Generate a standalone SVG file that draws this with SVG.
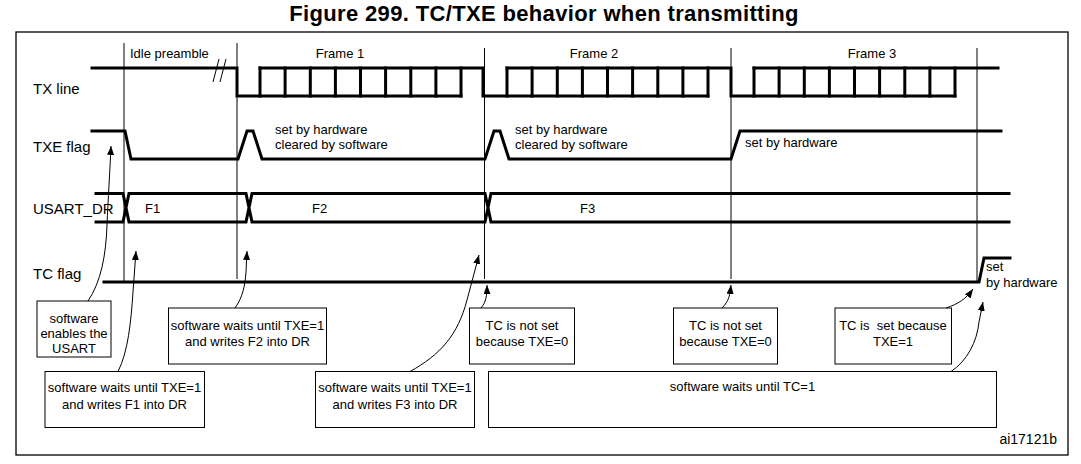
<svg xmlns="http://www.w3.org/2000/svg" width="1081" height="464" viewBox="0 0 1081 464">
<style>
text{font-family:"Liberation Sans",Arial,sans-serif;fill:#000}
.t13{font-size:13px}
.t15{font-size:15px}
.c{text-anchor:middle}
.sig{fill:none;stroke:#000;stroke-width:3;stroke-linecap:square;stroke-linejoin:miter}
.thin{fill:none;stroke:#000;stroke-width:1}
.box{fill:#fff;stroke:#000;stroke-width:1}
.arr{fill:none;stroke:#000;stroke-width:1;marker-end:url(#ah)}
</style>
<defs>
<marker id="ah" viewBox="0 0 10 10" refX="10" refY="5" markerWidth="9" markerHeight="7" orient="auto" markerUnits="userSpaceOnUse" preserveAspectRatio="none"><path d="M0,0 L10,5 L0,10 z" fill="#000"/></marker>
</defs>
<rect width="1081" height="464" fill="#fff"/>
<g id="title"><text x="544" y="21" class="c" style="font-size:22px;font-weight:bold;letter-spacing:0.35px">Figure 299. TC/TXE behavior when transmitting</text></g>
<rect id="frame" x="16" y="32" width="1052" height="423" fill="none" stroke="#000" stroke-width="1.3"/>

<g id="time-markers">
<path class="thin" d="M124,43 V282 M237,43 V279 M484.5,48 V279 M731,48 V279 M977,48 V282"/>
<path class="thin" stroke-width="1.3" d="M219,59 L213,82 M226,59 L220,82"/>
<text x="130" y="58" class="t13">Idle preamble</text>
<text x="340" y="58" class="t13 c">Frame 1</text>
<text x="594" y="58" class="t13 c">Frame 2</text>
<text x="872" y="58" class="t13 c">Frame 3</text>
</g>

<g id="tx-line">
<text x="33" y="94" class="t15">TX line</text>
<path class="sig" d="M92,68 H237 V96 H461 M260,68 H483 V96 H708 M507,68 H731 V96 H955 M754,68 H998"/>
<path class="sig" d="M260,68V96M285.1,68V96M310.3,68V96M335.4,68V96M360.5,68V96M385.6,68V96M410.8,68V96M435.9,68V96M461,68V96
M507,68V96M532.1,68V96M557.3,68V96M582.4,68V96M607.5,68V96M632.6,68V96M657.8,68V96M682.9,68V96M708,68V96
M754,68V96M779.1,68V96M804.3,68V96M829.4,68V96M854.5,68V96M879.6,68V96M904.8,68V96M929.9,68V96M955,68V96"/>
</g>

<g id="txe-flag">
<text x="33" y="152" class="t15">TXE flag</text>
<path class="sig" stroke-linecap="butt" d="M92,131 H125 L131,159 H238 L247,131 H253 L262,159 H485 L494,131 H500 L509,159 H731 L740,131 H1001"/>
<text x="275" y="134" class="t13">set by hardware</text>
<text x="275" y="149" class="t13">cleared by software</text>
<text x="515" y="134" class="t13">set by hardware</text>
<text x="515" y="149" class="t13">cleared by software</text>
<text x="745" y="147" class="t13">set by hardware</text>
</g>

<g id="usart-dr">
<text x="33" y="213.5" class="t15">USART_DR</text>
<path class="sig" stroke-linecap="butt" d="M96,193.5 H123 L129,222 H246 L252,193.5 H485 L491,222 H1009 M96,222 H123 L129,193.5 H246 L252,222 H485 L491,193.5 H1009"/>
<text x="145" y="213" class="t13">F1</text>
<text x="312" y="213" class="t13">F2</text>
<text x="580" y="213" class="t13">F3</text>
</g>

<g id="tc-flag">
<text x="33" y="279" class="t15">TC flag</text>
<path class="sig" stroke-linecap="butt" d="M104,282 H979 L984,258 H1010"/>
<text x="986" y="271" class="t13">set</text>
<text x="986" y="287" class="t13">by hardware</text>
</g>

<g id="box-enable">
<rect class="box" x="37" y="301" width="74" height="56"/>
<text x="74" y="323" class="t13 c">software</text>
<text x="74" y="338" class="t13 c">enables the</text>
<text x="74" y="353" class="t13 c">USART</text>
</g>
<g id="box-write-f1">
<rect class="box" x="45" y="371.5" width="159.5" height="56"/>
<text x="124.5" y="392" class="t13 c">software waits until TXE=1</text>
<text x="124.5" y="408.5" class="t13 c">and writes F1 into DR</text>
</g>
<g id="box-write-f2">
<rect class="box" x="168.5" y="308" width="158" height="56"/>
<text x="247.5" y="330" class="t13 c">software waits until TXE=1</text>
<text x="247.5" y="346" class="t13 c">and writes F2 into DR</text>
</g>
<g id="box-write-f3">
<rect class="box" x="315.5" y="371.5" width="159" height="56"/>
<text x="395" y="392" class="t13 c">software waits until TXE=1</text>
<text x="395" y="408.5" class="t13 c">and writes F3 into DR</text>
</g>
<g id="box-tc-not-set-1">
<rect class="box" x="469.5" y="308" width="105" height="56"/>
<text x="522" y="330" class="t13 c">TC is not set</text>
<text x="522" y="346" class="t13 c">because TXE=0</text>
</g>
<g id="box-tc-not-set-2">
<rect class="box" x="673.5" y="308" width="104" height="56"/>
<text x="725.5" y="330" class="t13 c">TC is not set</text>
<text x="725.5" y="346" class="t13 c">because TXE=0</text>
</g>
<g id="box-tc-set">
<rect class="box" x="835" y="308" width="116.5" height="56"/>
<text x="893" y="330" class="t13 c" xml:space="preserve">TC is  set because</text>
<text x="893" y="346" class="t13 c">TXE=1</text>
</g>
<g id="box-wait-tc">
<rect class="box" x="488.5" y="371.5" width="508" height="56"/>
<text x="742.5" y="391" class="t13 c">software waits until TC=1</text>
</g>

<g id="connectors">
<path class="arr" d="M88,301 C101,282 106,255 107,225 C108,200 110,170 111,146"/>
<path class="arr" d="M118,371.5 C128,352 131,322 133,292 L136,251"/>
<path class="arr" d="M235,308 C243,297 245,285 246,272 L247,251"/>
<path class="arr" d="M410,371.5 C440,355 458,335 467,300 L479,255"/>
<path class="arr" d="M481,308 C486,302 487,296 487,285"/>
<path class="arr" d="M722,308 C729,301 730,295 731,285"/>
<path class="arr" d="M946,308 C958,304 966,299 973,289"/>
<path class="arr" d="M951,371.5 C967,361 977,342 979,322 L983,302"/>
</g>

<text id="doc-id" x="1057" y="444" style="font-size:14px;text-anchor:end">ai17121b</text>
</svg>
